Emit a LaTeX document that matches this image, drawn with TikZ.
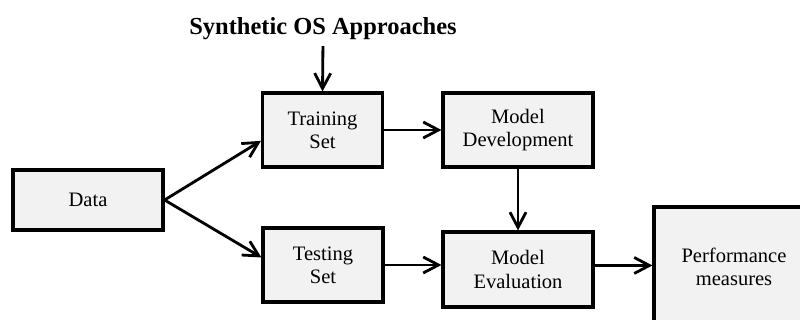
\documentclass[tikz,border=0pt]{standalone}
\usepackage{fontspec}
\setmainfont{Liberation Serif}
\usetikzlibrary{arrows.meta,positioning,calc}
\definecolor{boxgray}{HTML}{F2F2F2}
\tikzset{
  >={Straight Barb[length=3.8mm,width=4mm]},
  % blokken
  blk/.style={rectangle,draw=black,fill=boxgray,line width=2.2pt,inner sep=2pt,
              align=center,font=\fontsize{14.6}{16.4}\selectfont},
  flow/.style={->,draw=black,line width=2pt},
  ttl/.style={font=\fontsize{17.4}{20}\selectfont\bfseries,inner sep=0pt},
}

\begin{document}
\begin{tikzpicture}[x=0.025cm,y=-0.025cm]
  \clip (0,0) rectangle (800,320);
  \node[ttl,anchor=base] (os) at (323,35) {Synthetic OS Approaches};
  \node[blk,minimum width=3.75cm,minimum height=1.5cm] (data) at (88,200) {Data};
  \node[blk,minimum width=3cm,minimum height=1.85cm] (train) at (322.5,130) {Training\\Set};
  \node[blk,minimum width=3cm,minimum height=1.85cm] (test) at (323,265) {Testing\\Set};
  \node[blk,minimum width=3.75cm,minimum height=1.85cm] (dev) at (518,130) {Model\\Development};
  \node[blk,minimum width=3.75cm,minimum height=1.875cm] (eval) at (518,269.5) {Model\\Evaluation};
  \node[blk,minimum width=4cm,minimum height=3cm] (perf) at (734,267) {Performance\\measures};
  % pijlen
  \draw[flow,shorten <=4pt] (os.south) -- (train.north);
  \draw[flow] (data.east) -- (train.190);
  \draw[flow] (data.east) -- (test.173);
  \draw[flow] (train.east) -- (train.east -| dev.west);
  \draw[flow] (dev.south) -- (eval.north);
  \draw[flow] (test.east) -- (test.east -| eval.west);
  \draw[flow] (eval.3) -- (eval.3 -| perf.west);
\end{tikzpicture}
\end{document}
